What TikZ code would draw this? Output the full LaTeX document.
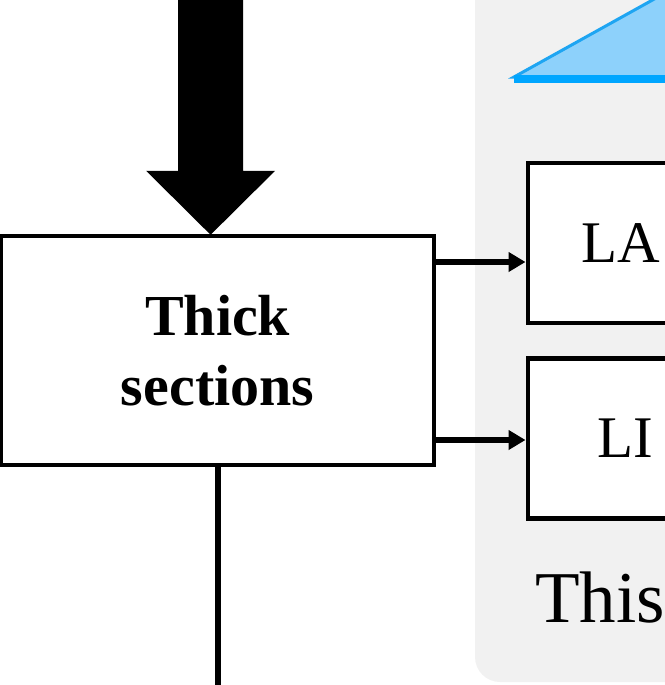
\documentclass[tikz,border=0pt]{standalone}
\usepackage{fontspec}
\setmainfont{Liberation Serif}
\usetikzlibrary{arrows.meta,calc}
\definecolor{panelgray}{HTML}{F1F1F1}
\definecolor{lightblue}{HTML}{8DD1FB}
\definecolor{edgeblue}{HTML}{1EA5F2}
\definecolor{barblue}{HTML}{00A6FF}
\tikzset{
  tbox/.style={draw=black, line width=4pt, fill=white, outer sep=0pt, align=center,
    font=\fontsize{58}{70}\selectfont\bfseries},
  rbox/.style={draw=black, line width=4.5pt, fill=white, anchor=west, minimum height=160pt,
    text width=260pt, align=left, font=\fontsize{59}{70}\selectfont},
  conn/.style={line width=5.5pt, -{Triangle[length=17pt,width=19pt]}},
  plain/.style={line width=6pt},
  bigarrow/.style={fill=black},
  caption/.style={anchor=base west, inner sep=0pt, font=\fontsize{73}{80}\selectfont}
}
\begin{document}
\begin{tikzpicture}[x=1pt,y=-1pt]
\useasboundingbox (0,0) rectangle (664,685);
% grey panel
\fill[panelgray, rounded corners=25pt] (475,-40) rectangle (760,682);
% blue triangle
\fill[lightblue, draw=edgeblue, line width=3pt] (514,77) -- (800,-82) -- (800,77) -- cycle;
\fill[barblue] (514,75) rectangle (800,83);
% boxes
\node[tbox, minimum width=433pt, minimum height=229pt] (thick) at (217.6,350.3) {Thick\\sections};
\node[rbox, inner xsep=54pt] (la) at (525.5,243) {LA};
\node[rbox, inner xsep=70pt] (li) at (525.5,438.5) {LI};
\node[caption] (cap) at (535,622) {This};
% big incoming arrow
\coordinate (tip) at ($(thick.north)+(-7,-1)$);
\fill[bigarrow] (tip) -- ++(64.5,-64) -- ++(-32,0) -- ++(0,-200) -- ++(-65,0) -- ++(0,200) -- ++(-32,0) -- cycle;
% connectors
\coordinate (a1) at (434,262);
\coordinate (a2) at (434,440);
\draw[conn] (thick.east |- a1) -- (la.west |- a1);
\draw[conn] (thick.east |- a2) -- (li.west |- a2);
\coordinate (down) at ($(thick.south)+(0,260)$);
\draw[plain] (thick.south) -- (down);
\end{tikzpicture}
\end{document}
